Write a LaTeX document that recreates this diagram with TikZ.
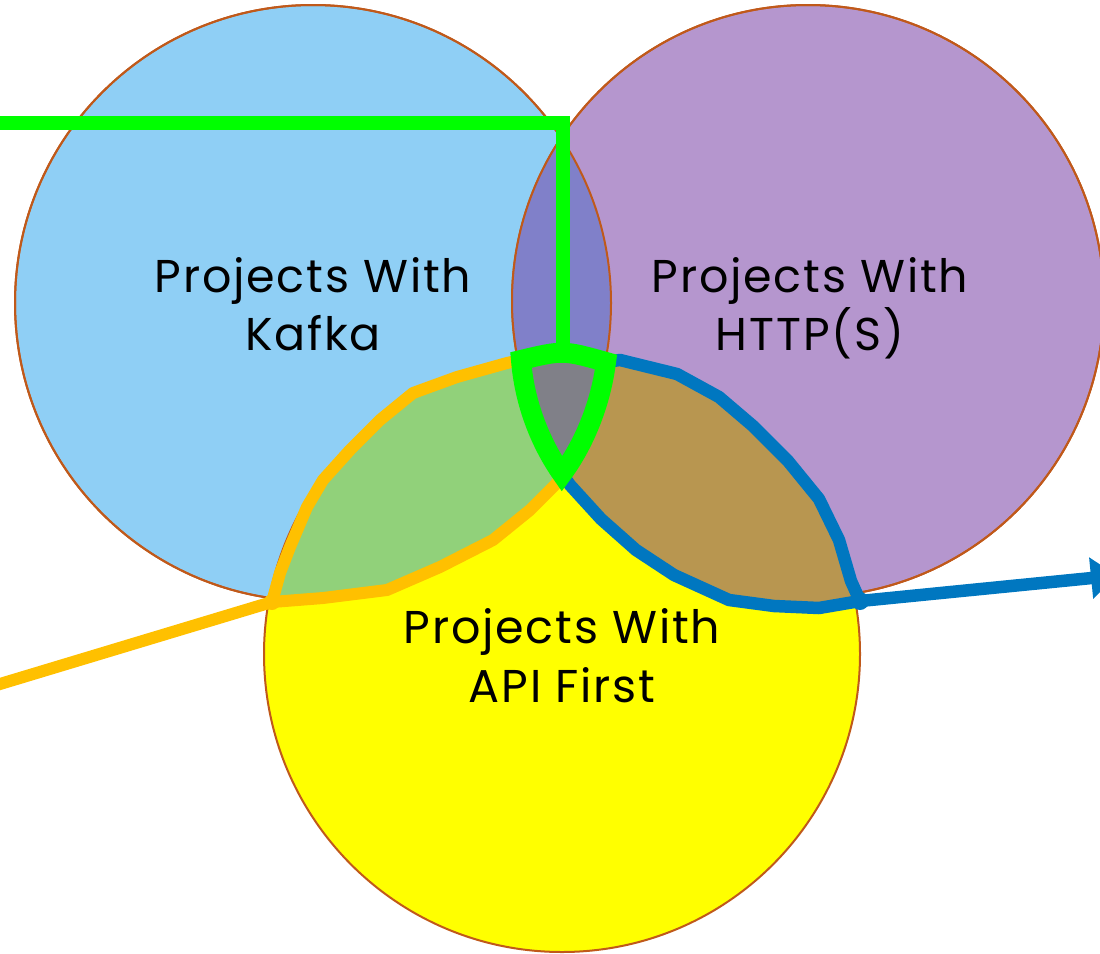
\documentclass[tikz,border=0pt]{standalone}
\usepackage{fontspec}
\setmainfont{Poppins}[LetterSpace=4]
\usetikzlibrary{arrows.meta}

\definecolor{kafkablue}{RGB}{143,207,245}
\definecolor{httppurple}{RGB}{181,150,206}
\definecolor{apiyellow}{RGB}{255,255,0}
\definecolor{lensblue}{RGB}{128,128,201}
\definecolor{lensgreen}{RGB}{145,209,122}
\definecolor{lensbrown}{RGB}{184,150,80}
\definecolor{coregray}{RGB}{128,128,136}
\definecolor{ringbrown}{RGB}{192,89,26}
\definecolor{hlgreen}{RGB}{0,255,0}
\definecolor{hlorange}{RGB}{255,192,0}
\definecolor{hlblue}{RGB}{0,119,192}

\begin{document}
\begin{tikzpicture}[x=1pt,y=-1pt,
  ring/.style={draw=ringbrown, line width=2pt},
  vtext/.style={font=\fontsize{46}{58}\selectfont, anchor=base, inner sep=0pt},
  greenline/.style={draw=hlgreen, line width=14pt, line join=miter},
  greenring/.style={draw=hlgreen, line width=20pt, line join=miter},
  orangeline/.style={draw=hlorange, line width=12pt, line join=round},
  blueline/.style={draw=hlblue, line width=12.5pt, line join=round}]
\useasboundingbox (0,0) rectangle (1100,953);

% the three sets
\fill[kafkablue] (313,303) circle (298);
\draw[ring] (313,303) circle (298);
\fill[httppurple] (808,301) circle (296);
\draw[ring] (808,301) circle (296);
\begin{scope}
  \clip (313,303) circle (298);
  \fill[lensblue] (808,301) circle (296);
\end{scope}
\draw[ring] (313,303) circle (298);
\draw[ring] (808,301) circle (296);
\fill[apiyellow] (562,654) circle (298);
\draw[ring] (562,654) circle (298);

% corners of the common region
\coordinate (tl) at (521,360);
\coordinate (tr) at (606,362);
\coordinate (bot) at (562,474);
\coordinate (ojoint) at (272,602);
\coordinate (bjoint) at (860,601);

% Kafka and API First
\path[fill=lensgreen, orangeline]
  (ojoint) -- (280,573) -- (290,547) -- (307,507) -- (323,480) -- (350,450)
  -- (380,420) -- (413,393) -- (457,377) -- (507,363) -- (tl)
  .. controls (525,410) and (545,450) .. (bot)
  -- (557,483) -- (530,510) -- (493,540) -- (440,567) -- (387,590)
  -- (323,598) -- cycle;

% HTTP(S) and API First
\path[fill=lensbrown, blueline]
  (tr) -- (620,360) -- (677,374) -- (719,397) -- (753,426) -- (788,461)
  -- (819,499) -- (839,540) -- (851,581) -- (bjoint)
  -- (819,608) -- (774,606) -- (729,600) -- (674,575) -- (636,550)
  -- (601,519) -- (570,485) -- (bot)
  .. controls (580,450) and (600,410) .. cycle;

% all three
\path[fill=coregray, greenring]
  (tl) .. controls (563,350) .. (tr)
  .. controls (600,410) and (580,450) .. (bot)
  .. controls (545,450) and (525,410) .. cycle;

% connectors
\coordinate (gstart) at (0,123);
\coordinate (gcorner) at (563,123);
\coordinate (gtop) at (563,356);
\draw[greenline] (gstart) -- (gcorner) -- (gtop);

\coordinate (ostart) at (-10,687);
\draw[orangeline] (ostart) -- (ojoint);
\fill[hlorange] (ojoint) circle (8);

\coordinate (bend) at (1117,575.5);
\draw[blueline, -{Triangle[width=40pt,length=26pt]}] (bjoint) -- (bend);
\fill[hlblue] (bjoint) circle (9);

% labels
\node[vtext] (kafka1) at (313,292) {Projects With};
\node[vtext] (kafka2) at (313,350) {Kafka};
\node[vtext] (http1) at (810,292) {Projects With};
\node[vtext] (http2) at (810,350) {HTTP(S)};
\node[vtext] (api1) at (562,643) {Projects With};
\node[vtext] (api2) at (562,702) {API First};
\end{tikzpicture}
\end{document}
